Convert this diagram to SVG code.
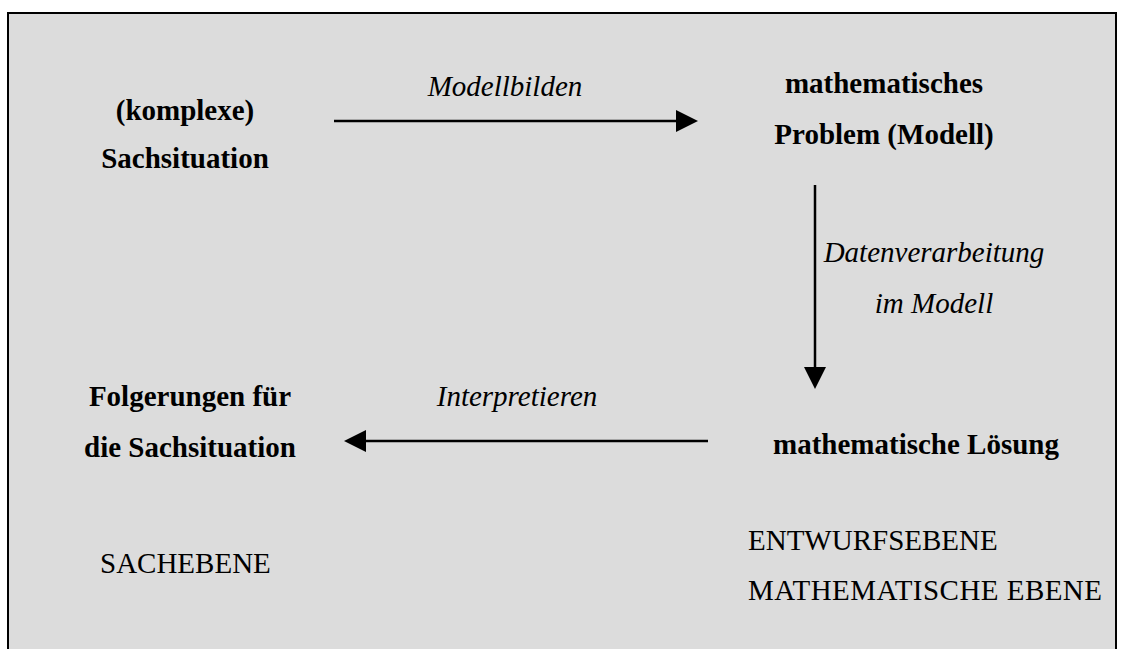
<svg xmlns="http://www.w3.org/2000/svg" width="1124" height="649" viewBox="0 0 1124 649">
<style>
.t{font-family:"Liberation Serif","Times New Roman",serif;font-size:29px;fill:#000}
.b{font-weight:bold}
.i{font-style:italic}
.m{text-anchor:middle}
.c{stroke:#000;stroke-width:2.5;fill:none}
</style>
<defs>
<marker id="ah" markerUnits="userSpaceOnUse" markerWidth="22" markerHeight="22" refX="0" refY="11" orient="auto" viewBox="0 0 22 22">
<path d="M0,0 L22,11 L0,22 Z" fill="#000"/>
</marker>
</defs>
<rect x="0" y="0" width="1124" height="649" fill="#fff"/>
<rect id="frame" x="8" y="13" width="1108" height="650" fill="#dcdcdc" stroke="#000" stroke-width="2"/>
<g id="connectors">
<line class="c" x1="334" y1="121" x2="676" y2="121" marker-end="url(#ah)"/>
<line class="c" x1="815" y1="185" x2="815" y2="367" marker-end="url(#ah)"/>
<line class="c" x1="708" y1="441" x2="366" y2="441" marker-end="url(#ah)"/>
<text class="t i m" x="505" y="96">Modellbilden</text>
<text class="t i m" x="934" y="262">Datenverarbeitung</text>
<text class="t i m" x="934" y="313">im Modell</text>
<text class="t i m" x="517" y="406">Interpretieren</text>
</g>
<g id="sachsituation">
<text class="t b m" x="185" y="120">(komplexe)</text>
<text class="t b m" x="185" y="168">Sachsituation</text>
</g>
<g id="problem">
<text class="t b m" x="884" y="93">mathematisches</text>
<text class="t b m" x="884" y="144">Problem (Modell)</text>
</g>
<g id="loesung">
<text class="t b m" x="916" y="454">mathematische Lösung</text>
</g>
<g id="folgerungen">
<text class="t b m" x="190" y="406">Folgerungen für</text>
<text class="t b m" x="190" y="457">die Sachsituation</text>
</g>
<g id="sachebene">
<text class="t" x="100" y="573">SACHEBENE</text>
</g>
<g id="ebenen">
<text class="t" x="748" y="550">ENTWURFSEBENE</text>
<text class="t" x="748" y="600" textLength="354" lengthAdjust="spacing">MATHEMATISCHE EBENE</text>
</g>
</svg>
